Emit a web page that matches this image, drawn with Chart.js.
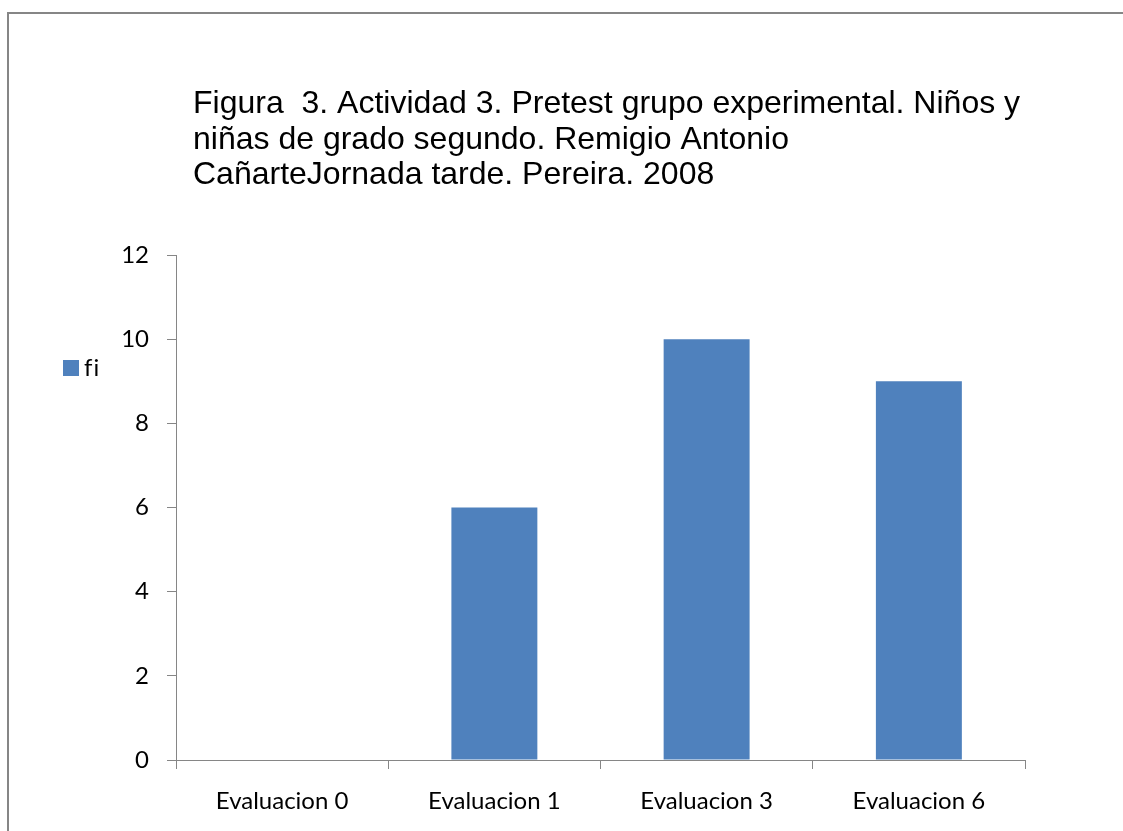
<!DOCTYPE html>
<html>
<head>
<meta charset="utf-8">
<script src="https://cdn.jsdelivr.net/npm/chart.js@4.4.0/dist/chart.umd.min.js"></script>
<style>
  html, body { margin: 0; padding: 0; background: #fff; }
  #box { position: relative; width: 1123px; height: 831px; }
</style>
</head>
<body>
<div id="box"><canvas id="grafica" width="1123" height="831"></canvas></div>
<script>
var categorias = ["Evaluacion 0", "Evaluacion 1", "Evaluacion 3", "Evaluacion 6"];
var valoresFi = [0, 6, 10, 9];
var serieNombre = "fi";
var tituloLineas = [
    "Figura  3. Actividad 3. Pretest grupo experimental. Niños y",
    "niñas de grado segundo. Remigio Antonio",
    "CañarteJornada tarde. Pereira. 2008"
];
var yMin = 0, yMax = 12, yPaso = 2;

var azul = '#4F81BD';
var gris = '#868686';
var fuenteEje = "Lato, 'Open Sans', sans-serif";

// marco, titulo y leyenda dibujados a mano
var decoracion = {
    id: 'decoracion',
    beforeDraw: function (chart) {
        var c = chart.ctx;
        c.save();
        c.strokeStyle = gris;
        c.lineWidth = 2;
        c.beginPath();
        c.moveTo(8, 831);
        c.lineTo(8, 13);
        c.lineTo(1123, 13);
        c.stroke();

        c.fillStyle = '#000';
        c.font = "32px 'Liberation Sans', Arial, sans-serif";
        c.textBaseline = 'alphabetic';
        tituloLineas.forEach(function (t, i) {
            c.fillText(t, 193, 113 + i * 35.5);
        });

        c.fillStyle = azul;
        c.fillRect(63, 360, 16, 16);
        c.fillStyle = '#000';
        c.font = "24px " + fuenteEje;
        c.letterSpacing = '1px';
        c.textBaseline = 'middle';
        c.fillText(serieNombre, 84, 368);
        c.restore();
    }
};

var ctx = document.getElementById("grafica").getContext('2d');
var grafica = new Chart(ctx, {
    type: 'bar',
    data: {
        labels: categorias,
        datasets: [{
            label: serieNombre,
            data: valoresFi,
            backgroundColor: azul,
            borderWidth: 0,
            barPercentage: 0.405,
            categoryPercentage: 1
        }]
    },
    options: {
        responsive: false,
        animation: false,
        layout: { padding: { top: 255, right: 98, left: 0, bottom: 0 } },
        plugins: {
            legend: { display: false },
            title: { display: false },
            tooltip: { enabled: false }
        },
        scales: {
            x: {
                afterFit: function (s) { s.height = 71; },
                grid: {
                    offset: true,
                    drawOnChartArea: false,
                    tickLength: 9,
                    color: gris
                },
                border: { color: gris, width: 1 },
                ticks: {
                    color: '#000',
                    padding: 18,
                    font: { family: fuenteEje, size: 24 }
                }
            },
            y: {
                min: yMin,
                max: yMax,
                afterFit: function (s) { s.width = 176; },
                grid: {
                    drawOnChartArea: false,
                    tickLength: 9,
                    color: gris
                },
                border: { color: gris, width: 1 },
                ticks: {
                    stepSize: yPaso,
                    color: '#000',
                    padding: 18,
                    font: { family: fuenteEje, size: 24 }
                }
            }
        }
    },
    plugins: [decoracion]
});
</script>
</body>
</html>
